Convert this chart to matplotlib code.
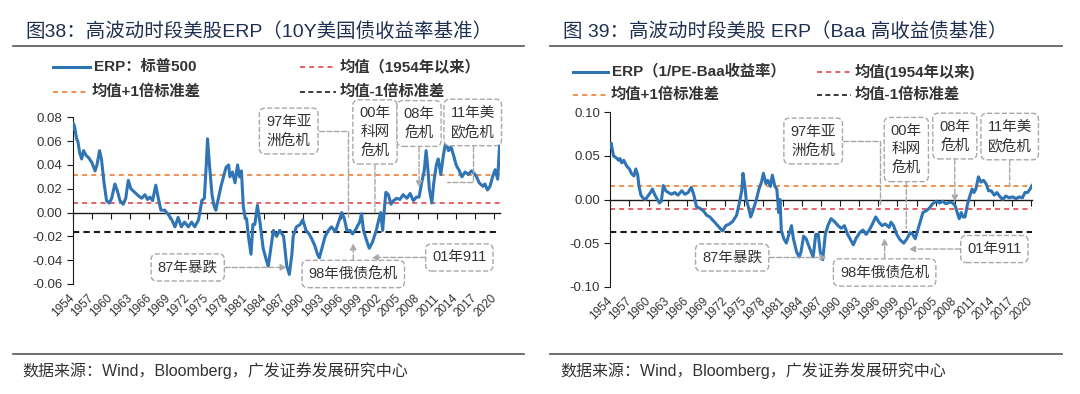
import matplotlib
matplotlib.use("Agg")
import matplotlib.pyplot as plt
from matplotlib.lines import Line2D

plt.rcParams['font.family'] = ['Liberation Sans', 'Noto Sans CJK SC', 'DejaVu Sans']
plt.rcParams['axes.unicode_minus'] = False

# ---- data ----
left_years = [1954.0, 1954.1, 1954.3, 1954.6, 1954.8, 1955.1, 1955.4, 1955.7, 1956.1, 1956.5,
              1957.0, 1957.5, 1957.8, 1958.2, 1958.5, 1958.9, 1959.3, 1959.7, 1960.1, 1960.6,
              1961.0, 1961.4, 1961.9, 1962.3, 1962.7, 1963.1, 1963.5, 1964.3, 1964.8, 1965.3,
              1965.7, 1966.1, 1966.5, 1967.0, 1967.4, 1967.8, 1968.4, 1969.0, 1969.5, 1970.0,
              1970.5, 1971.0, 1971.5, 1972.1, 1972.6, 1973.1, 1973.7, 1974.2, 1974.6, 1974.9,
              1975.1, 1975.4, 1975.8, 1976.1, 1976.4, 1976.8, 1977.2, 1977.6, 1978.0, 1978.4,
              1978.6, 1979.0, 1979.4, 1979.8, 1980.1, 1980.4, 1980.7, 1981.0, 1981.2, 1981.5,
              1981.9, 1982.2, 1982.5, 1982.9, 1983.3, 1983.8, 1984.3, 1984.6, 1985.0, 1985.4,
              1985.9, 1986.4, 1987.0, 1987.5, 1987.9, 1988.3, 1988.5, 1989.0, 1989.6, 1990.0,
              1990.5, 1991.0, 1991.4, 1991.9, 1992.3, 1992.6, 1993.0, 1993.5, 1994.0, 1994.5,
              1995.1, 1995.6, 1996.1, 1996.5, 1996.9, 1997.4, 1997.8, 1998.3, 1998.9, 1999.2,
              1999.5, 1999.9, 2000.4, 2000.9, 2001.5, 2001.8, 2002.2, 2002.5, 2002.8, 2003.0,
              2003.4, 2003.8, 2004.2, 2004.7, 2005.2, 2005.7, 2006.3, 2006.8, 2007.3, 2007.8,
              2008.2, 2008.6, 2009.0, 2009.3, 2009.6, 2009.8, 2010.2, 2010.5, 2010.9, 2011.2,
              2011.6, 2012.0, 2012.4, 2012.8, 2013.2, 2013.6, 2014.0, 2014.5, 2014.9, 2015.4,
              2015.9, 2016.4, 2016.8, 2017.2, 2017.6, 2018.2, 2018.5, 2018.9, 2019.3, 2019.7,
              2020.1, 2020.5, 2020.8]
left_erp = [0.070, 0.075, 0.072, 0.062, 0.060, 0.050, 0.045, 0.052, 0.048, 0.046,
            0.042, 0.035, 0.040, 0.052, 0.045, 0.025, 0.010, 0.008, 0.012, 0.024,
            0.018, 0.010, 0.007, 0.012, 0.027, 0.020, 0.018, 0.014, 0.012, 0.015,
            0.011, 0.013, 0.010, 0.023, 0.012, 0.002, 0.002, -0.002, -0.006, -0.012,
            -0.004, -0.012, -0.008, -0.012, -0.008, -0.012, -0.006, 0.010, 0.012, 0.040,
            0.062, 0.040, 0.015, 0.006, 0.002, 0.012, 0.022, 0.030, 0.038, 0.040,
            0.030, 0.034, 0.025, 0.040, 0.030, 0.035, 0.005, -0.005, -0.005, -0.020,
            -0.035, -0.010, -0.010, 0.006, -0.008, -0.030, -0.040, -0.045, -0.030, -0.015,
            -0.020, -0.015, -0.020, -0.045, -0.052, -0.035, -0.020, -0.012, -0.010, -0.006,
            -0.015, -0.018, -0.022, -0.028, -0.035, -0.038, -0.030, -0.020, -0.015, -0.012,
            -0.016, -0.008, 0.000, -0.005, -0.015, -0.015, -0.018, -0.014, -0.008, -0.001,
            -0.015, -0.022, -0.030, -0.025, -0.015, -0.008, 0.000, -0.015, 0.005, 0.017,
            0.015, 0.007, 0.010, 0.012, 0.011, 0.015, 0.012, 0.016, 0.010, 0.013,
            0.013, 0.025, 0.035, 0.052, 0.035, 0.020, 0.008, 0.025, 0.040, 0.045,
            0.032, 0.048, 0.060, 0.052, 0.055, 0.048, 0.040, 0.035, 0.030, 0.034,
            0.032, 0.035, 0.033, 0.030, 0.025, 0.022, 0.024, 0.019, 0.022, 0.030,
            0.036, 0.028, 0.057]
left_mean, left_up, left_down = 0.0078, 0.0317, -0.0165

right_years = [1954.0, 1954.1, 1954.3, 1954.5, 1954.9, 1955.3, 1955.5, 1955.8, 1956.1, 1956.6,
               1957.0, 1957.3, 1957.7, 1958.0, 1958.3, 1958.5, 1958.8, 1959.2, 1959.5, 1960.0,
               1960.3, 1960.6, 1961.0, 1961.4, 1961.7, 1962.0, 1962.3, 1962.7, 1963.1, 1963.6,
               1964.1, 1964.6, 1965.2, 1965.7, 1966.2, 1966.7, 1967.1, 1967.5, 1968.0, 1968.6,
               1969.1, 1969.6, 1970.1, 1970.6, 1971.2, 1971.6, 1972.1, 1972.7, 1973.2, 1973.8,
               1974.2, 1974.6, 1974.8, 1975.1, 1975.3, 1975.7, 1976.0, 1976.4, 1976.9, 1977.3,
               1977.7, 1978.0, 1978.4, 1978.7, 1979.1, 1979.4, 1979.8, 1980.1, 1980.4, 1980.6,
               1980.8, 1981.2, 1981.6, 1982.0, 1982.4, 1982.7, 1983.2, 1983.6, 1983.9, 1984.3,
               1984.7, 1985.2, 1985.8, 1986.2, 1986.6, 1986.9, 1987.3, 1987.7, 1988.1, 1988.6,
               1989.1, 1989.7, 1990.2, 1990.7, 1991.2, 1991.8, 1992.1, 1992.5, 1993.1, 1993.6,
               1994.1, 1994.6, 1995.1, 1995.6, 1996.1, 1996.6, 1997.1, 1997.7, 1998.0, 1998.4,
               1998.9, 1999.4, 2000.0, 2000.5, 2001.0, 2001.4, 2001.8, 2002.2, 2002.6, 2003.0,
               2003.5, 2004.0, 2004.5, 2005.1, 2005.6, 2006.1, 2006.6, 2007.2, 2007.7, 2008.1,
               2008.5, 2008.7, 2009.0, 2009.3, 2009.6, 2010.0, 2010.4, 2010.7, 2011.0, 2011.3,
               2011.7, 2012.1, 2012.5, 2012.9, 2013.3, 2013.7, 2014.2, 2014.6, 2015.0, 2015.5,
               2016.0, 2016.5, 2017.1, 2017.6, 2018.1, 2018.6, 2019.0, 2019.4, 2019.8, 2020.1]
right_erp = [0.060, 0.065, 0.058, 0.050, 0.048, 0.045, 0.047, 0.042, 0.045, 0.038,
             0.035, 0.030, 0.027, 0.035, 0.028, 0.015, 0.005, 0.001, 0.000, 0.005,
             0.008, 0.012, 0.005, 0.000, -0.004, -0.002, 0.016, 0.010, 0.008, 0.006,
             0.008, 0.005, 0.010, 0.006, 0.008, 0.014, 0.005, -0.008, -0.010, -0.013,
             -0.018, -0.020, -0.024, -0.028, -0.033, -0.036, -0.030, -0.028, -0.025, -0.018,
             -0.005, 0.010, 0.030, 0.015, 0.000, -0.010, -0.020, -0.012, 0.000, 0.012,
             0.020, 0.030, 0.018, 0.022, 0.015, 0.028, 0.015, 0.012, -0.015, 0.000,
             -0.035, -0.045, -0.050, -0.040, -0.030, -0.045, -0.060, -0.066, -0.060, -0.042,
             -0.045, -0.055, -0.066, -0.040, -0.040, -0.060, -0.069, -0.040, -0.030, -0.022,
             -0.025, -0.030, -0.033, -0.030, -0.040, -0.048, -0.052, -0.045, -0.038, -0.035,
             -0.040, -0.035, -0.028, -0.020, -0.026, -0.030, -0.028, -0.032, -0.026, -0.030,
             -0.040, -0.046, -0.050, -0.045, -0.038, -0.040, -0.045, -0.035, -0.025, -0.015,
             -0.013, -0.010, -0.005, -0.002, -0.004, -0.002, -0.005, -0.003, -0.004, -0.008,
             -0.018, -0.022, -0.015, -0.020, -0.020, -0.005, 0.005, 0.012, 0.008, 0.012,
             0.026, 0.020, 0.022, 0.018, 0.010, 0.010, 0.005, 0.008, 0.004, 0.000,
             0.004, 0.002, 0.003, 0.001, 0.003, 0.002, 0.008, 0.008, 0.012, 0.016]
right_mean, right_up, right_down = -0.0108, 0.0154, -0.0373

year_ticks = list(range(1954, 2021, 3))

BLUE = '#2F74B5'
ORANGE = '#ED7D31'
RED = '#E0474C'
BLACK = '#1a1a1a'
GRAY = '#a8a8a8'
TXT = '#333333'

W, H = 1080, 394
fig = plt.figure(figsize=(W / 100, H / 100), dpi=100)


def fx(px):
    return px / W


def fy(py):
    return 1 - py / H


def header(x_title, x0, x1, title, rows):
    fig.text(fx(x_title), fy(31.5), title, fontsize=14, color='#1f2f4f', va='center')
    fig.add_artist(Line2D([fx(x0), fx(x1)], [fy(46), fy(46)], color='#555555', lw=1.2))
    fig.add_artist(Line2D([fx(x0), fx(x1)], [fy(354), fy(354)], color='#555555', lw=1.2))
    fig.text(fx(x_title - 3), fy(371), '数据来源：Wind，Bloomberg，广发证券发展研究中心',
             fontsize=11.5, color=TXT, va='center')
    for lx0, lx1, ly, color, ls, lw, label in rows:
        fig.add_artist(Line2D([fx(lx0), fx(lx1)], [fy(ly), fy(ly)], color=color, ls=ls, lw=lw))
        fig.text(fx(lx1 + 4), fy(ly), label, fontsize=11, color=TXT, va='center', weight='bold')


def panel(ax, years, erp, mean, up, down, ylim, yticks, ylabels, notes):
    ax.axhline(up, color=ORANGE, ls=(0, (3, 2.5)), lw=1.2, zorder=1)
    ax.axhline(mean, color=RED, ls=(0, (3, 2.5)), lw=1.2, zorder=1)
    ax.axhline(down, color=BLACK, ls=(0, (3, 2)), lw=1.5, zorder=1)
    ax.plot(years, erp, color=BLUE, lw=2.2, zorder=4)
    ax.set_xlim(years[0], years[-1])
    ax.set_ylim(*ylim)
    for s in ['top', 'right', 'bottom']:
        ax.spines[s].set_visible(False)
    ax.spines['left'].set_color(BLACK)
    ax.set_yticks(yticks, ylabels)
    ax.tick_params(axis='y', direction='out', length=4, labelsize=9.5, labelcolor=TXT, color=BLACK)
    ax.set_xticks(year_ticks, [str(y) for y in year_ticks])
    ax.tick_params(axis='x', length=0, pad=9, labelsize=8.5, labelcolor=TXT)
    for lab in ax.get_xticklabels():
        lab.set_rotation(45)
        lab.set_ha('right')
        lab.set_va('center')
        lab.set_rotation_mode('anchor')
    # zero line with ticks
    sec = ax.secondary_xaxis((0 - ylim[0]) / (ylim[1] - ylim[0]))
    sec.set_alignment('bottom')
    sec.set_xticks(year_ticks)
    sec.tick_params(direction='out', length=4, labelbottom=False, color=BLACK)
    sec.spines['bottom'].set_color(BLACK)
    sec.spines['bottom'].set_linewidth(1.0)

    box = dict(boxstyle='round,pad=0.45,rounding_size=0.4', fc='white', ec=GRAY, ls='--', lw=1)
    for text, xy, xytext, style, conn in notes:
        ax.annotate(text, xy=xy, xytext=xytext, ha='center', va='center', fontsize=10.5,
                    color=TXT, bbox=box, linespacing=1.4, annotation_clip=False, zorder=5,
                    arrowprops=dict(arrowstyle=style, color=GRAY, ls='--', lw=1,
                                    shrinkA=0, shrinkB=0, connectionstyle=conn,
                                    mutation_scale=9))


# ---- left panel ----
axL = fig.add_axes([fx(72.7), fy(284), fx(499.6) - fx(72.7), fy(117.3) - fy(284)])
header(25, 13, 524, '图38：高波动时段美股ERP（10Y美国债收益率基准）',
       [(53, 90, 67.3, BLUE, '-', 2.2, 'ERP：标普500'),
        (300, 336, 67.3, RED, (0, (3, 2.5)), 1.2, '均值（1954年以来）'),
        (53, 88, 92, ORANGE, (0, (3, 2.5)), 1.2, '均值+1倍标准差'),
        (300, 336, 92, BLACK, (0, (3, 2)), 1.2, '均值-1倍标准差')])
panel(axL, left_years, left_erp, left_mean, left_up, left_down,
      (-0.06, 0.08), [0.08, 0.06, 0.04, 0.02, 0.0, -0.02, -0.04, -0.06],
      ['0.08', '0.06', '0.04', '0.02', '0.00', '-0.02', '-0.04', '-0.06'],
      [('97年亚\n洲危机', (1997.0, -0.004), (1987.8, 0.0685), '-', 'angle,angleA=0,angleB=90,rad=0'),
       ('00年\n科网\n危机', (2001.3, 0.000), (2001.3, 0.0677), '-', 'arc3'),
       ('08年\n危机', (2008.2, 0.021), (2008.2, 0.0748), '-|>', 'arc3'),
       ('11年美\n欧危机', (2012.5, 0.0254), (2016.6, 0.0757), '-', 'angle,angleA=90,angleB=0,rad=0'),
       ('01年911', (2000.8, -0.0377), (2014.5, -0.0377), '-|>', 'arc3'),
       ('98年俄债危机', (1997.9, -0.0258), (1997.9, -0.0516), '-|>', 'arc3'),
       ('87年暴跌', (1987.5, -0.0461), (1972.0, -0.0461), '-|>', 'arc3')])

# ---- right panel ----
axR = fig.add_axes([fx(610.3), fy(286.7), fx(1032) - fx(610.3), fy(112.3) - fy(286.7)])
header(563, 550, 1062, '图 39：高波动时段美股 ERP（Baa 高收益债基准）',
       [(573, 608, 71.5, BLUE, '-', 2.2, 'ERP（1/PE-Baa收益率）'),
        (817, 851, 71.5, RED, (0, (3, 2.5)), 1.2, '均值(1954年以来)'),
        (573, 607, 95, ORANGE, (0, (3, 2.5)), 1.2, '均值+1倍标准差'),
        (817, 851, 95, BLACK, (0, (3, 2)), 1.2, '均值-1倍标准差')])
panel(axR, right_years, right_erp, right_mean, right_up, right_down,
      (-0.10, 0.10), [0.10, 0.05, 0.0, -0.05, -0.10],
      ['0.10', '0.05', '0.00', '-0.05', '-0.10'],
      [('97年亚\n洲危机', (1996.35, -0.005), (1985.8, 0.0671), '-', 'angle,angleA=0,angleB=90,rad=0'),
       ('00年\n科网\n危机', (2000.4, -0.033), (2000.4, 0.0573), '-', 'arc3'),
       ('08年\n危机', (2008.0, -0.0025), (2008.0, 0.0728), '-|>', 'arc3'),
       ('11年美\n欧危机', (2016.6, 0.0147), (2016.6, 0.0722), '-', 'arc3'),
       ('01年911', (2000.8, -0.0568), (2014.2, -0.0568), '-|>', 'arc3'),
       ('98年俄债危机', (1997.0, -0.0445), (1997.0, -0.0837), '-|>', 'arc3'),
       ('87年暴跌', (1987.9, -0.0665), (1973.1, -0.0665), '-|>', 'arc3')])

fig.savefig('out.png', dpi=100, facecolor='white')
